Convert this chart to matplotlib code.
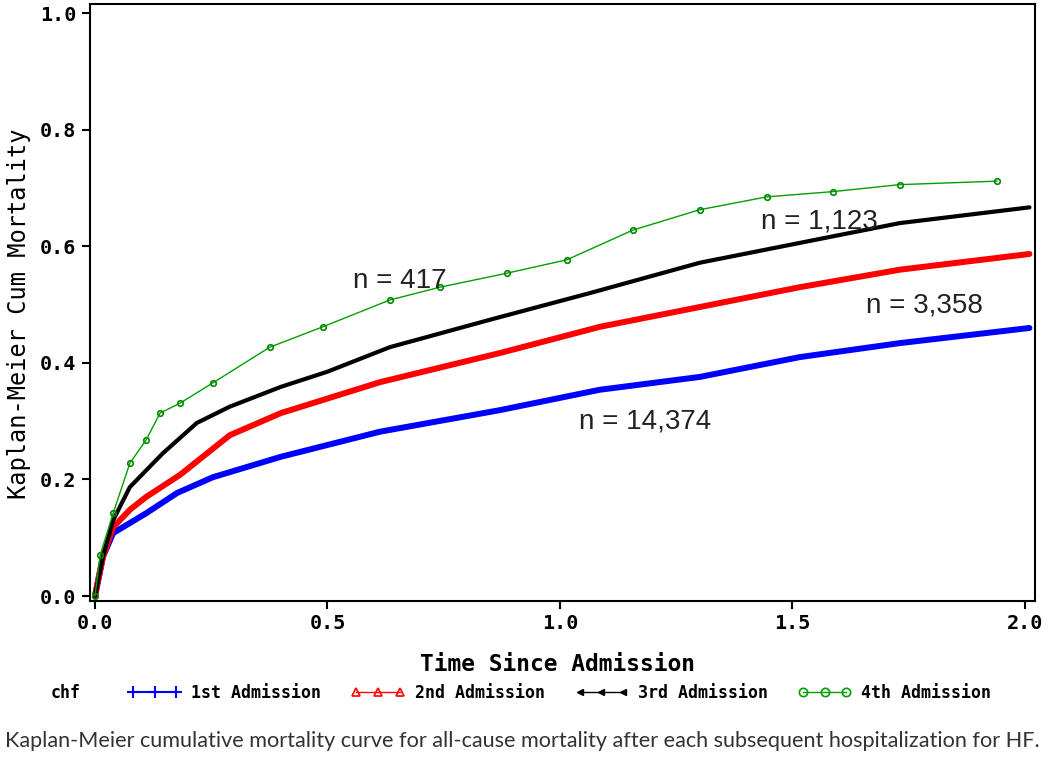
"""Kaplan-Meier cumulative mortality after each subsequent HF admission."""

import matplotlib

matplotlib.use("Agg")
import matplotlib.pyplot as plt
from matplotlib.lines import Line2D

# --- data ------------------------------------------------------------------
blue_t = [0, 0.017, 0.039, 0.11, 0.177, 0.254, 0.40, 0.613, 0.871, 1.086, 1.301, 1.516, 1.731, 2.01]
blue_y = [0, 0.067, 0.108, 0.142, 0.177, 0.204, 0.239, 0.282, 0.319, 0.354, 0.376, 0.41, 0.434, 0.46]

red_t = [0, 0.017, 0.039, 0.075, 0.11, 0.183, 0.29, 0.40, 0.613, 0.871, 1.086, 1.301, 1.516, 1.731, 2.01]
red_y = [0, 0.067, 0.118, 0.148, 0.17, 0.208, 0.276, 0.314, 0.367, 0.417, 0.462, 0.496, 0.53, 0.56, 0.587]

black_t = [0, 0.017, 0.039, 0.075, 0.146, 0.219, 0.29, 0.40, 0.5, 0.634, 0.849, 1.065, 1.301, 1.516, 1.731, 2.01]
black_y = [0, 0.067, 0.13, 0.187, 0.245, 0.297, 0.325, 0.359, 0.385, 0.427, 0.474, 0.52, 0.572, 0.606, 0.64, 0.667]

green_t = [0, 0.011, 0.039, 0.075, 0.11, 0.14, 0.183, 0.254, 0.376, 0.49, 0.634, 0.742, 0.886,
           1.015, 1.157, 1.301, 1.445, 1.587, 1.731, 1.94]
green_y = [0, 0.07, 0.142, 0.228, 0.268, 0.314, 0.331, 0.366, 0.427, 0.462, 0.508, 0.53, 0.554,
           0.577, 0.628, 0.663, 0.685, 0.694, 0.706, 0.712]

series_labels = ["1st Admission", "2nd Admission", "3rd Admission", "4th Admission"]
n_labels = ["n = 14,374", "n = 3,358", "n = 1,123", "n = 417"]
n_pos = [(1.183, 0.299), (1.785, 0.498), (1.559, 0.642), (0.656, 0.54)]

x_ticks = [0.0, 0.5, 1.0, 1.5, 2.0]
y_ticks = [0.0, 0.2, 0.4, 0.6, 0.8, 1.0]

MONO = "DejaVu Sans Mono"

fig = plt.figure(figsize=(10.5, 7.58), dpi=100)
ax = fig.add_axes([0.0857, 0.2071, 0.9, 0.7876])

ax.plot(blue_t, blue_y, color="#0000ff", lw=4.3, solid_capstyle="round")
ax.plot(red_t, red_y, color="#ff0000", lw=4.3, solid_capstyle="round")
ax.plot(black_t, black_y, color="black", lw=3.0, solid_capstyle="round")
ax.plot(green_t, green_y, color="#00a000", lw=1.0, marker="o", ms=4,
        mfc="none", mec="#008800", mew=1.2)

for txt, (x, y) in zip(n_labels, n_pos):
    ax.text(x, y, txt, ha="center", va="center", fontsize=20,
            family="Liberation Sans", color="#222222")

ax.set_xlim(-0.0108, 2.022)
ax.set_ylim(-0.0086, 1.016)
ax.set_xticks(x_ticks)
ax.set_yticks(y_ticks)
ax.set_xticklabels([f"{v:.1f}" for v in x_ticks], family=MONO, fontsize=14.5, fontweight="bold")
ax.set_yticklabels([f"{v:.1f}" for v in y_ticks], family=MONO, fontsize=14.5, fontweight="bold")
ax.tick_params(direction="out", length=6, width=1.5, pad=4)
ax.tick_params(axis="x", pad=3)
for sp in ax.spines.values():
    sp.set_linewidth(1.5)

ax.set_xlabel("Time Since Admission", family=MONO, fontsize=16.5, fontweight="bold")
ax.xaxis.set_label_coords(0.495, -0.087)
ax.set_ylabel("Kaplan-Meier Cum Mortality", family=MONO, fontsize=17)
ax.yaxis.set_label_coords(-0.062, 0.482)

handles = [
    Line2D([], [], color="#0000ff", lw=1.5, marker="+", ms=9, mew=1.5),
    Line2D([], [], color="#ff0000", lw=1.0, marker="^", ms=6, mfc="none", mew=1.2),
    Line2D([], [], color="black", lw=1.0, marker="<", ms=5, mew=1.0),
    Line2D([], [], color="#00a000", lw=1.0, marker="o", ms=6, mfc="none", mew=1.2),
]
fig.text(0.048, 1 - 693 / 758, "chf", family=MONO, fontsize=12, fontweight="bold",
         va="center")
fig.legend(handles, series_labels, loc="center", bbox_to_anchor=(0.533, 1 - 693 / 758),
           ncol=4, frameon=False, numpoints=3, handlelength=3.2, handletextpad=0.6,
           columnspacing=1.8, prop={"family": MONO, "size": 12, "weight": "bold"})

fig.text(0.005, 1 - 741 / 758,
         "Kaplan-Meier cumulative mortality curve for all-cause mortality after each "
         "subsequent hospitalization for HF.",
         family="Lato", fontsize=15.6, color="#333333", va="center")

fig.savefig("out.png", dpi=100)
